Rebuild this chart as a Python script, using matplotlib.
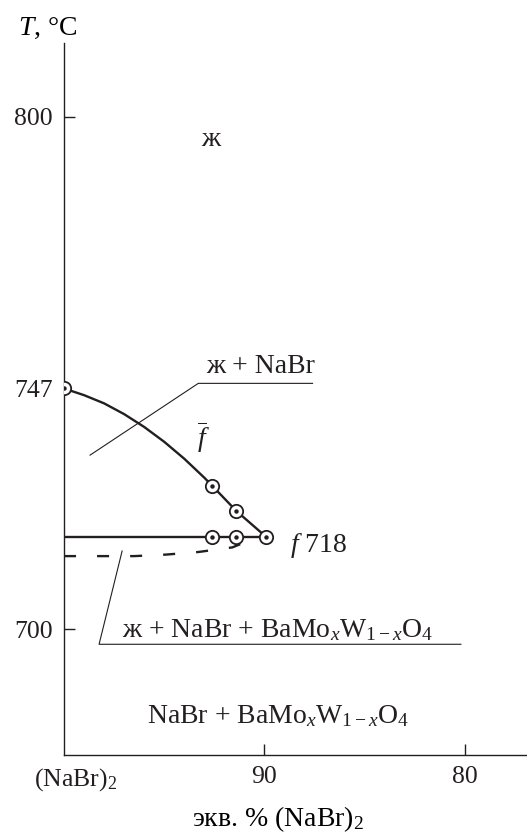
import matplotlib
matplotlib.use("Agg")
import matplotlib.pyplot as plt
from matplotlib.transforms import ScaledTranslation

INK = "#231f20"

plt.rcParams["font.family"] = ["Liberation Serif", "DejaVu Serif"]
plt.rcParams["mathtext.fontset"] = "custom"
plt.rcParams["mathtext.rm"] = "Liberation Serif"
plt.rcParams["mathtext.it"] = "Liberation Serif:italic"
plt.rcParams["mathtext.bf"] = "Liberation Serif:bold"
plt.rcParams["font.size"] = 20
plt.rcParams["text.color"] = INK

# measured points: equivalent % (NaBr)2 vs temperature, degC
liq_x = [100, 92.6, 91.4, 89.9]
liq_t = [747, 728, 723.1, 718]
sol_x = [92.6, 91.4]
sol_t = [718, 718]

# NaBr liquidus as drawn
curve_x = [100, 99, 98, 97, 96, 95, 94, 93, 92.6, 91.4, 89.9]
curve_t = [747, 745.7, 744.1, 742.0, 739.5, 736.6, 733.3, 729.6, 728,
           723.1, 718]

# eutectic horizontal f 718
eut_x = [100, 89.9]
eut_t = [718, 718]

# dashed boundary under the eutectic line
dash_x = [100, 96.5, 94.9, 93.3, 91.6, 91.1]
dash_t = [714.3, 714.3, 714.6, 715.1, 716.0, 716.8]

# leader lines for the field labels
lead1_x = [98.7, 93.3, 87.6]
lead1_t = [734.0, 748.0, 748.0]
lead2_x = [97.1, 98.25, 80.2]
lead2_t = [715.3, 697.1, 697.1]

xticks = [100, 90, 80]
xtick_labels = ["(NaBr)$_2$", "90", "80"]
yticks = [700, 747, 800]


def circles(ax, x, t):
    ax.plot(x, t, "o", ms=9.6, mfc="white", mec=INK, mew=1.3, zorder=5)
    ax.plot(x, t, "o", ms=3.2, mfc=INK, mec=INK, mew=0, zorder=6)


def main():
    fig = plt.figure(figsize=(5.27, 8.33), dpi=100)
    ax = fig.add_axes([64 / 527, 78 / 833, 463 / 527, 712 / 833])

    ax.plot(curve_x, curve_t, color=INK, lw=1.7, solid_joinstyle="round")
    ax.plot(eut_x, eut_t, color=INK, lw=1.7)
    ax.plot(dash_x, dash_t, color=INK, lw=1.7, dashes=(5.1, 8.9))
    ax.plot(lead1_x, lead1_t, color=INK, lw=0.8)
    ax.plot(lead2_x, lead2_t, color=INK, lw=0.8)

    circles(ax, liq_x, liq_t)
    circles(ax, sol_x, sol_t)

    ax.text(92.7, 795.6, "ж", ha="center", va="center")
    ax.text(92.9, 750.1, "ж + NaBr", ha="left", va="baseline")
    ax.text(93.05, 735.5, r"$\overline{f}$", ha="center", va="baseline")
    ax.text(88.7, 715.1, "$f$ 718", ha="left", va="baseline")
    ax.text(97.1, 698.5, r"ж + NaBr + BaMo$_x$W$_{1-x}$O$_4$",
            ha="left", va="baseline")
    ax.text(95.85, 681.7, r"NaBr + BaMo$_x$W$_{1-x}$O$_4$",
            ha="left", va="baseline")

    ax.set_xlim(100, 76.9)
    ax.set_ylim(675.5, 814.4)

    ax.set_xticks(xticks)
    ax.set_xticklabels(xtick_labels)
    ax.set_yticks(yticks)
    ax.tick_params(direction="in", length=8, width=1.0, color=INK,
                   labelcolor=INK, labelsize=18.5)
    ax.tick_params(axis="x", pad=8)
    ax.tick_params(axis="y", pad=8)
    ax.xaxis.get_major_ticks()[0].tick1line.set_visible(False)
    ax.yaxis.get_major_ticks()[1].tick1line.set_visible(False)
    lbl = ax.get_xticklabels()[0]
    lbl.set_transform(lbl.get_transform()
                      + ScaledTranslation(12 / 100, 0, fig.dpi_scale_trans))

    for side in ("top", "right"):
        ax.spines[side].set_visible(False)
    for side in ("left", "bottom"):
        ax.spines[side].set_linewidth(1.0)
        ax.spines[side].set_color(INK)

    ax.set_xlabel("экв. % (NaBr)$_2$")
    ax.xaxis.label.set_va("baseline")
    ax.xaxis.set_label_coords((278 - 64) / 463, (755 - 826) / 712)
    ax.set_ylabel("$T$, °C", rotation=0, ha="center", va="center")
    ax.yaxis.set_label_coords((47.5 - 64) / 463, (755 - 28) / 712)

    fig.savefig("out.png", dpi=100)


if __name__ == "__main__":
    main()
